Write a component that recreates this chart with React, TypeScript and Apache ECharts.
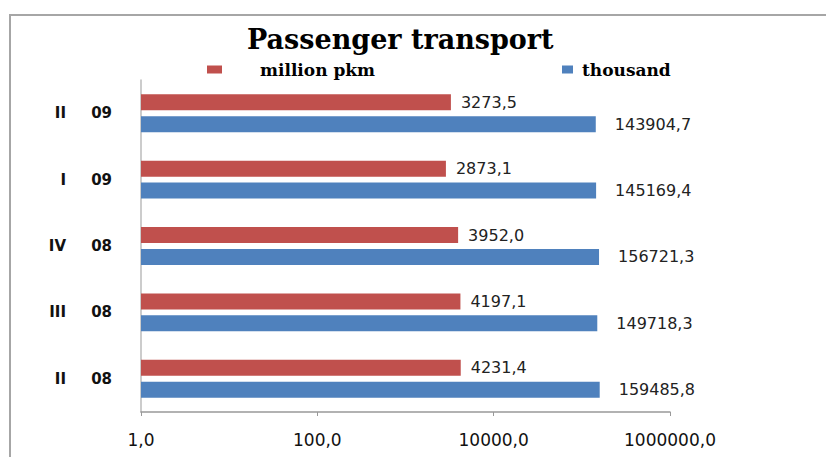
import React, { useEffect, useRef } from "react";
import * as echarts from "echarts";

const categories = ["II 08", "III 08", "IV 08", "I 09", "II 09"];
const pkmValues = [4231.4, 4197.1, 3952.0, 2873.1, 3273.5];
const thousandValues = [159485.8, 149718.3, 156721.3, 145169.4, 143904.7];
const seriesNames = ["million pkm", "thousand"];
const titleText = "Passenger transport";

const fmt = (v: number) => Number(v).toFixed(1).replace(".", ",");

export default function App() {
  const ref = useRef<HTMLDivElement>(null);
  useEffect(() => {
    if (!ref.current) return;
    const chart = echarts.init(ref.current, undefined, { renderer: "svg" });
    chart.setOption({
      animation: false,
      backgroundColor: "#ffffff",
      graphic: [
        {
          type: "rect",
          shape: { x: 10, y: 15, width: 900, height: 500 },
          style: { fill: "none", stroke: "#a6a6a6", lineWidth: 2 },
          silent: true,
        },
      ],
      title: {
        text: titleText,
        left: 247,
        top: 26,
        padding: 0,
        textStyle: {
          fontFamily: "DejaVu Serif",
          fontWeight: "bold",
          fontSize: 27,
          color: "#000",
        },
      },
      legend: [
        {
          data: [seriesNames[0]],
          left: 207,
          top: 61,
          padding: 0,
          icon: "rect",
          itemWidth: 15,
          itemHeight: 8,
          textStyle: {
            fontFamily: "DejaVu Serif",
            fontWeight: "bold",
            fontSize: 17,
            color: "#000",
            padding: [0, 0, 0, 33],
          },
        },
        {
          data: [seriesNames[1]],
          left: 562,
          top: 61,
          padding: 0,
          icon: "rect",
          itemWidth: 11,
          itemHeight: 8,
          textStyle: {
            fontFamily: "DejaVu Serif",
            fontWeight: "bold",
            fontSize: 17,
            color: "#000",
            padding: [0, 0, 0, 4],
          },
        },
      ],
      grid: { left: 141, top: 80, width: 529, height: 332, containLabel: false },
      xAxis: {
        type: "log",
        logBase: 10,
        min: 1,
        max: 1000000,
        interval: 2,
        splitLine: { show: false },
        axisLine: { show: true, lineStyle: { color: "#999", width: 1.5 } },
        axisTick: { show: true, length: 4, lineStyle: { color: "#999" } },
        axisLabel: {
          margin: 19,
          fontFamily: "DejaVu Sans",
          fontSize: 17,
          color: "#111",
          formatter: (v: number) => fmt(v),
        },
      },
      yAxis: {
        type: "category",
        data: categories,
        axisLine: { show: true, lineStyle: { color: "#bbb", width: 1.5 } },
        axisTick: { show: false },
        axisLabel: {
          margin: 29,
          formatter: (v: string) => {
            const [r, y] = v.split(" ");
            return `{r|${r}}{y|${y}}`;
          },
          rich: {
            r: {
              width: 22,
              align: "right",
              fontFamily: "DejaVu Sans",
              fontWeight: "bold",
              fontSize: 15,
              color: "#111",
            },
            y: {
              width: 46,
              align: "right",
              fontFamily: "DejaVu Sans",
              fontWeight: "bold",
              fontSize: 15,
              color: "#111",
            },
          },
        },
      },
      series: [
        {
          name: seriesNames[0],
          type: "bar",
          data: pkmValues,
          barWidth: 16,
          barGap: "37%",
          itemStyle: { color: "#C0504D" },
          label: {
            show: true,
            position: "right",
            distance: 10,
            fontFamily: "DejaVu Sans",
            fontSize: 16,
            color: "#222",
            formatter: (p: any) => fmt(p.value),
          },
        },
        {
          name: seriesNames[1],
          type: "bar",
          data: thousandValues,
          barWidth: 16,
          barGap: "37%",
          itemStyle: { color: "#4F81BD" },
          label: {
            show: true,
            position: "right",
            distance: 19,
            fontFamily: "DejaVu Sans",
            fontSize: 16,
            color: "#222",
            formatter: (p: any) => fmt(p.value),
          },
        },
      ],
    });
    return () => chart.dispose();
  }, []);
  return (
    <div
      ref={ref}
      style={{ position: "fixed", left: 0, top: 0, width: 826, height: 457 }}
    />
  );
}
